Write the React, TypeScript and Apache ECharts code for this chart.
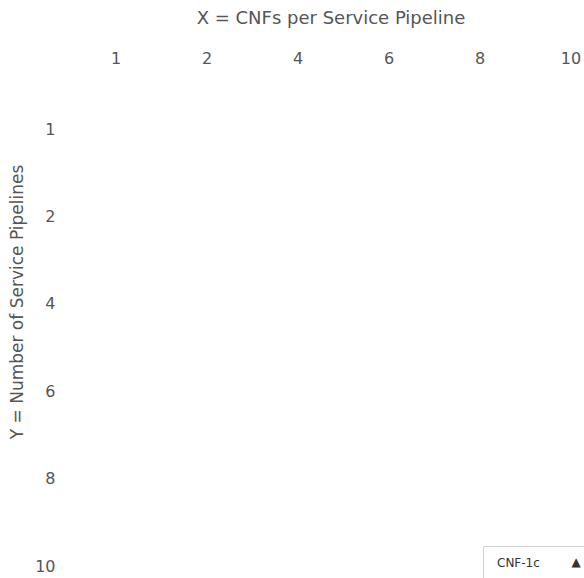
import React, { useEffect, useRef } from "react";
import * as echarts from "echarts";

const xCategories = ["1", "2", "4", "6", "8", "10"];
const yCategories = ["1", "2", "4", "6", "8", "10"];
const cellValues: [number, number, number][] = [];
const xAxisTitle = "X = CNFs per Service Pipeline";
const yAxisTitle = "Y = Number of Service Pipelines";
const selectedOption = "CNF-1c";

const FONT = "DejaVu Sans, sans-serif";

export default function App() {
  const ref = useRef<HTMLDivElement>(null);
  useEffect(() => {
    document.body.style.margin = "0";
    const chart = echarts.init(ref.current!, undefined, { renderer: "svg" });
    chart.setOption({
      animation: false,
      backgroundColor: "#ffffff",
      textStyle: { fontFamily: FONT },
      grid: { left: 70.5, width: 546, top: 85.3, height: 524.4, containLabel: false },
      xAxis: {
        type: "category",
        position: "top",
        data: xCategories,
        boundaryGap: true,
        axisLine: { show: false },
        axisTick: { show: false },
        splitLine: { show: false },
        axisLabel: { color: "#555", fontSize: 16, fontFamily: FONT, margin: 19 },
      },
      yAxis: {
        type: "category",
        data: yCategories,
        inverse: true,
        boundaryGap: true,
        axisLine: { show: false },
        axisTick: { show: false },
        splitLine: { show: false },
        axisLabel: { color: "#555", fontSize: 16, fontFamily: FONT, margin: 15 },
      },
      visualMap: {
        show: false,
        min: 0,
        max: 1,
        calculable: false,
        inRange: { color: ["#ffffff", "#313695"] },
      },
      series: [
        {
          type: "heatmap",
          data: cellValues,
        },
      ],
      graphic: [
        {
          type: "text",
          x: 331,
          y: 17,
          style: {
            text: xAxisTitle,
            fill: "#555",
            fontSize: 18,
            fontFamily: FONT,
            align: "center",
            verticalAlign: "middle",
          },
        },
        {
          type: "text",
          x: 17,
          y: 302,
          rotation: Math.PI / 2,
          style: {
            text: yAxisTitle,
            fill: "#555",
            fontSize: 17,
            fontFamily: FONT,
            align: "center",
            verticalAlign: "middle",
          },
        },
        {
          type: "rect",
          shape: { x: 483.5, y: 546.5, width: 130, height: 50 },
          style: { fill: "#ffffff", stroke: "#d0d0d0", lineWidth: 1 },
        },
        {
          type: "text",
          x: 497,
          y: 563,
          style: {
            text: selectedOption,
            fill: "#333",
            fontSize: 12,
            fontFamily: FONT,
            verticalAlign: "middle",
          },
        },
        {
          type: "text",
          x: 576,
          y: 562,
          style: {
            text: "▲",
            fill: "#333",
            fontSize: 12,
            fontFamily: FONT,
            align: "center",
            verticalAlign: "middle",
          },
        },
      ],
    });
    return () => chart.dispose();
  }, []);
  return (
    <div style={{ width: 584, height: 578, overflow: "hidden", position: "relative" }}>
      <div ref={ref} style={{ width: 660, height: 640 }} />
    </div>
  );
}
